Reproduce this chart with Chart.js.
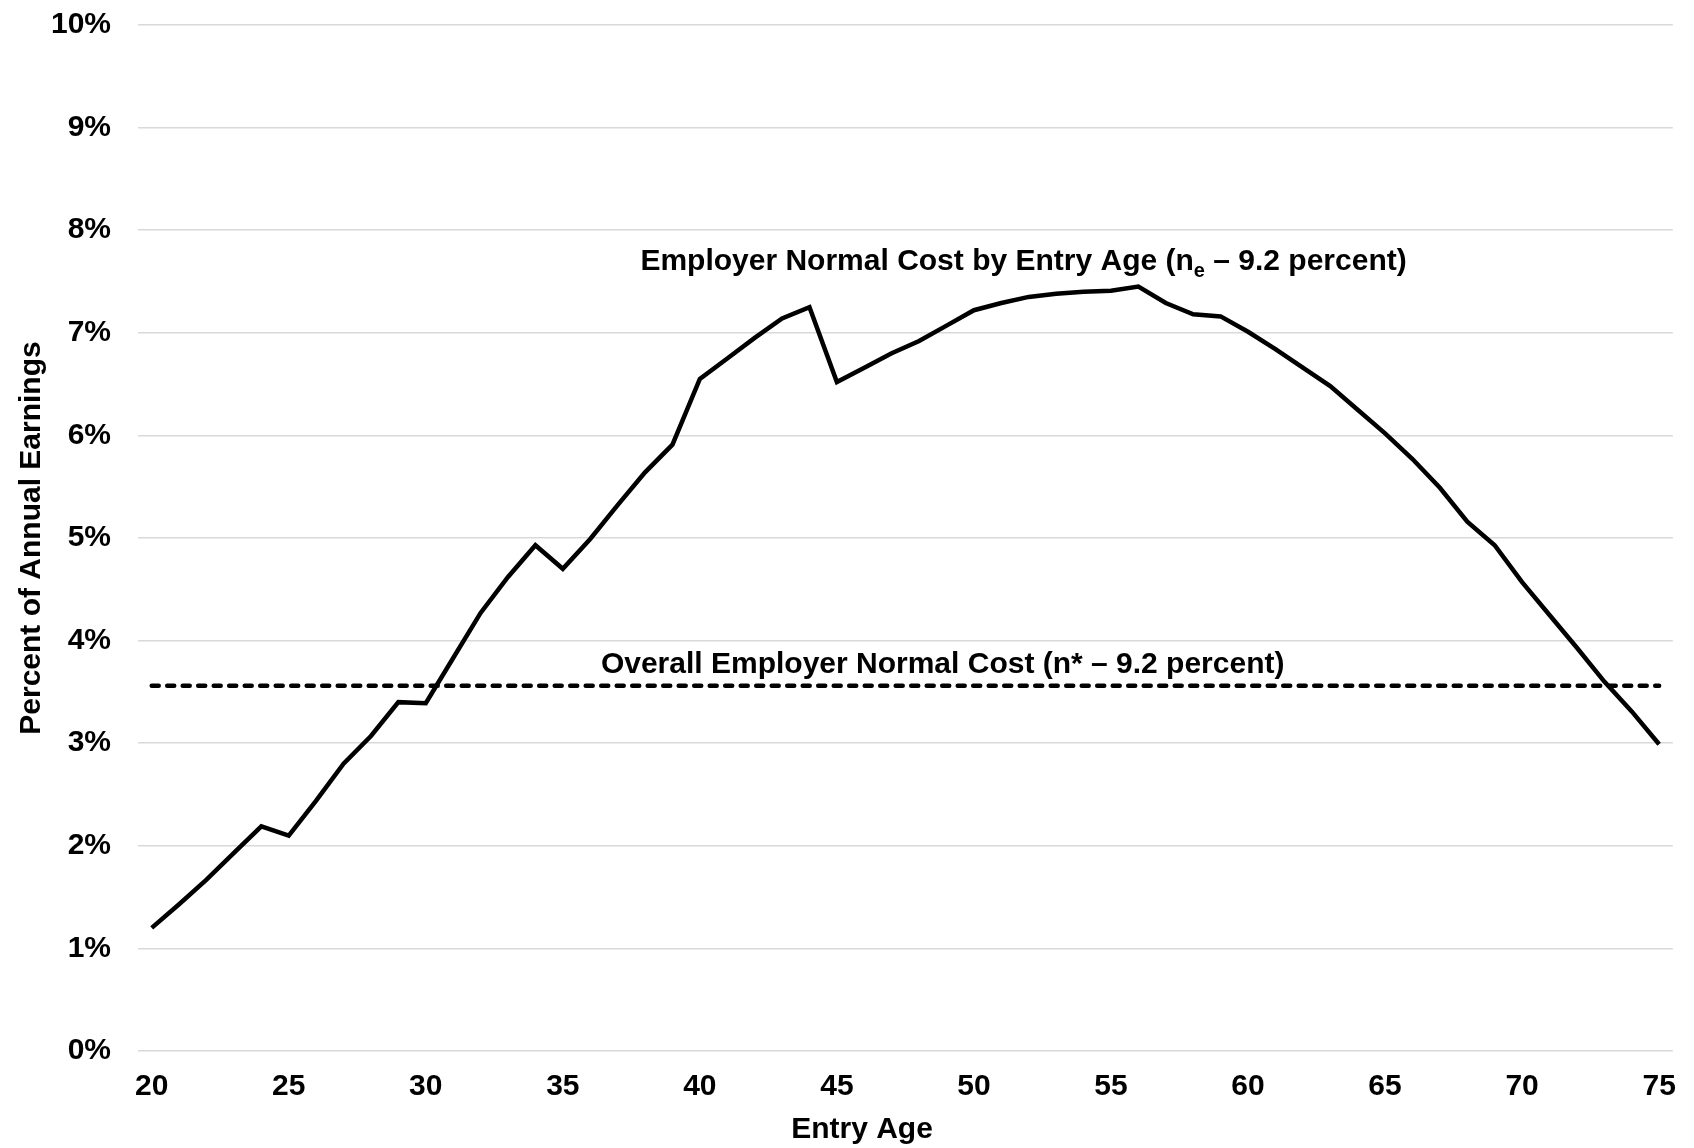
<!DOCTYPE html>
<html>
<head>
<meta charset="utf-8">
<script src="https://cdn.jsdelivr.net/npm/chart.js@4.4.1/dist/chart.umd.min.js"></script>
<style>
  html, body { margin: 0; padding: 0; background: #ffffff; }
  #wrap { width: 1694px; height: 1148px; position: relative; }
</style>
</head>
<body>
<div id="wrap"><canvas id="costChart" width="1694" height="1148"></canvas></div>
<script>
// Entry ages on the x axis
const entryAges = [20, 21, 22, 23, 24, 25, 26, 27, 28, 29,
                   30, 31, 32, 33, 34, 35, 36, 37, 38, 39,
                   40, 41, 42, 43, 44, 45, 46, 47, 48, 49,
                   50, 51, 52, 53, 54, 55, 56, 57, 58, 59,
                   60, 61, 62, 63, 64, 65, 66, 67, 68, 69,
                   70, 71, 72, 73, 74, 75];

// Employer normal cost by entry age (percent of annual earnings)
const normalCost = [1.20, 1.43, 1.67, 1.93, 2.19, 2.10, 2.44, 2.80, 3.07, 3.40,
                    3.39, 3.83, 4.27, 4.62, 4.93, 4.70, 4.99, 5.32, 5.64, 5.91,
                    6.55, 6.75, 6.95, 7.14, 7.25, 6.52, 6.66, 6.80, 6.92, 7.07,
                    7.22, 7.29, 7.35, 7.38, 7.40, 7.41, 7.45, 7.29, 7.18, 7.16,
                    7.01, 6.84, 6.66, 6.48, 6.25, 6.02, 5.77, 5.49, 5.16, 4.93,
                    4.57, 4.25, 3.93, 3.60, 3.31, 2.99];

// Overall employer normal cost, drawn across the full age span
const overallCost = 3.56;
const overallSpan = [20, 75];

const yTicks = [0, 1, 2, 3, 4, 5, 6, 7, 8, 9, 10];

const fontFamily = "'Liberation Sans', Arial, sans-serif";
const labelFont = { family: fontFamily, size: 30, weight: 'bold', lineHeight: 1.2 };

// annotation labels next to the two lines, plus the x axis title
const annotations = {
    id: 'annotations',
    afterDatasetsDraw(chart) {
        const ctx = chart.ctx;
        const x = chart.scales.x;
        const y = chart.scales.y;
        const big = 'bold 30px ' + fontFamily;
        const small = 'bold 20px ' + fontFamily;
        ctx.save();
        ctx.fillStyle = '#000000';
        ctx.textBaseline = 'middle';

        // line 1 with subscript e
        const parts = [
            { t: 'Employer Normal Cost by Entry Age (n', f: big, dy: 0 },
            { t: 'e', f: small, dy: 9 },
            { t: ' \u2013 9.2 percent)', f: big, dy: 0 }
        ];
        let total = 0;
        parts.forEach(p => { ctx.font = p.f; total += ctx.measureText(p.t).width; });
        let px = x.getPixelForValue(31.81) - total / 2;
        const py = y.getPixelForValue(7.69);
        ctx.textAlign = 'left';
        parts.forEach(p => {
            ctx.font = p.f;
            ctx.fillText(p.t, px, py + p.dy);
            px += ctx.measureText(p.t).width;
        });

        // line 2
        ctx.font = big;
        ctx.textAlign = 'center';
        ctx.fillText('Overall Employer Normal Cost (n* \u2013 9.2 percent)',
            x.getPixelForValue(28.86), y.getPixelForValue(3.76));

        // x axis title (sits left of the plot centre, as in the original)
        ctx.fillText('Entry Age', 862, 1130);
        ctx.restore();
    }
};

const ctx = document.getElementById('costChart').getContext('2d');
new Chart(ctx, {
    type: 'line',
    data: {
        labels: entryAges,
        datasets: [{
            label: 'Employer Normal Cost by Entry Age',
            data: normalCost,
            borderColor: '#000000',
            borderWidth: 4.5,
            borderJoinStyle: 'miter',
            pointRadius: 0,
            tension: 0,
            fill: false
        }, {
            label: 'Overall Employer Normal Cost',
            data: overallSpan.map(a => ({ x: a, y: overallCost })),
            borderColor: '#000000',
            borderWidth: 4.5,
            borderDash: [7, 8.5],
            borderCapStyle: 'round',
            pointRadius: 0,
            fill: false
        }]
    },
    options: {
        responsive: false,
        animation: false,
        layout: { padding: { left: 0, right: 21, top: 25, bottom: 0 } },
        plugins: {
            legend: { display: false },
            tooltip: { enabled: false }
        },
        scales: {
            x: {
                type: 'category',
                offset: true,
                grid: { display: false, drawTicks: false, tickLength: 0 },
                border: { display: false },
                ticks: {
                    autoSkip: false,
                    maxRotation: 0,
                    padding: 18,
                    color: '#000000',
                    font: labelFont,
                    callback: function(value) {
                        const age = this.getLabelForValue(value);
                        return age % 5 === 0 ? String(age) : '';
                    }
                },
                afterFit: function(scale) { scale.height = 97; }
            },
            y: {
                min: 0,
                max: 10,
                afterBuildTicks: function(scale) {
                    scale.ticks = yTicks.map(v => ({ value: v }));
                },
                // invisible tick marks give the gap between labels and plot
                grid: { color: '#d9d9d9', lineWidth: 1.5, drawTicks: true, tickLength: 27, tickColor: 'rgba(0,0,0,0)' },
                border: { display: false },
                ticks: {
                    padding: 0,
                    color: '#000000',
                    font: labelFont,
                    callback: v => v + '%'
                },
                title: {
                    display: true,
                    text: 'Percent of Annual Earnings',
                    color: '#000000',
                    font: labelFont,
                    padding: { top: 14, bottom: 0 }
                },
                afterFit: function(scale) { scale.width = 138; }
            }
        }
    },
    plugins: [annotations]
});
</script>
</body>
</html>
